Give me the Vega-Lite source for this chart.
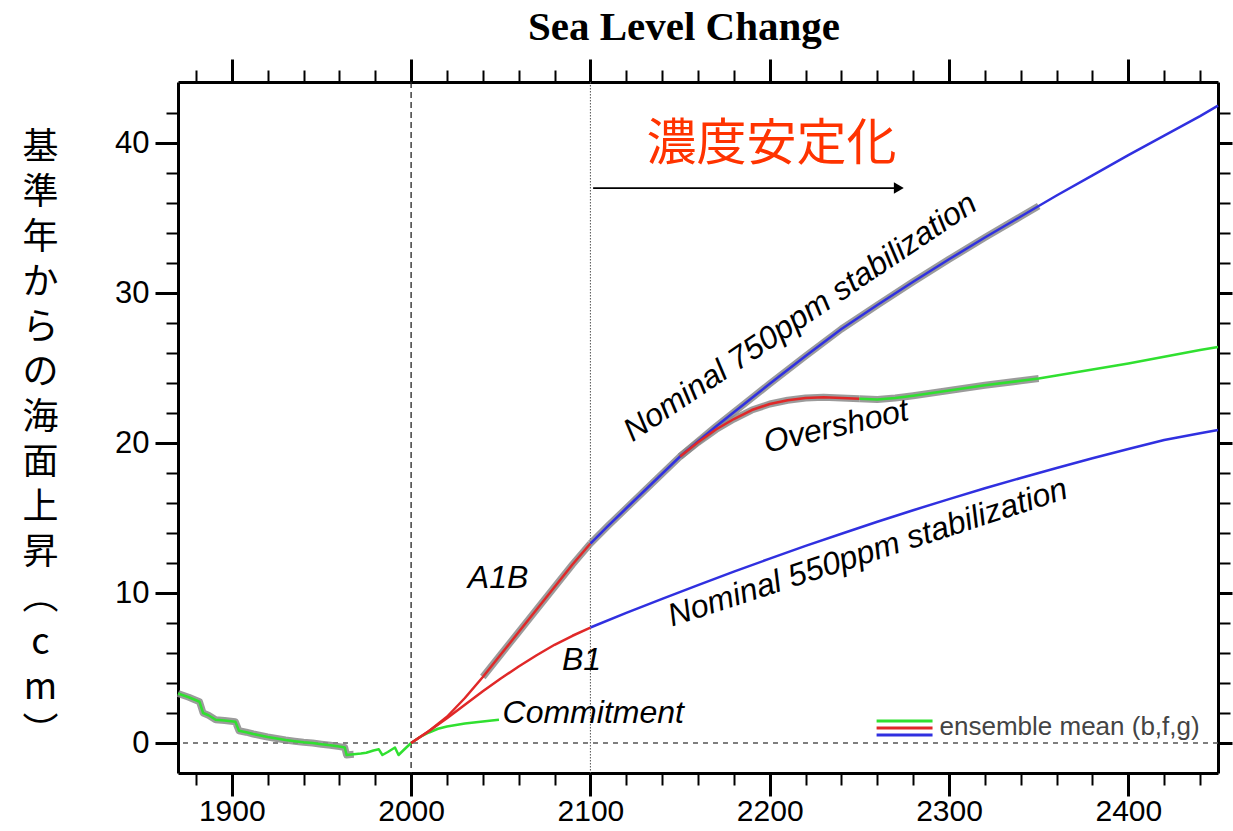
{
  "$schema": "https://vega.github.io/schema/vega-lite/v6.json",
  "width": 1040,
  "height": 691,
  "autosize": {"type": "none"},
  "padding": {"left": 178, "top": 82, "right": 15, "bottom": 58},
  "background": "white",
  "config": {"view": {"stroke": null}, "font": "Liberation Sans"},
  "title": {"text": "Sea Level Change", "font": "Liberation Serif", "fontSize": 41, "fontWeight": "bold", "color": "black", "anchor": "middle", "offset": 9, "dx": -14},
  "datasets": {
    "curves": [
      {"s": "hist", "c": "g", "e": 1, "t": 1870, "v": 3.3},
      {"s": "hist", "c": "g", "e": 1, "t": 1876, "v": 3.05},
      {"s": "hist", "c": "g", "e": 1, "t": 1882, "v": 2.75},
      {"s": "hist", "c": "g", "e": 1, "t": 1884, "v": 2.0},
      {"s": "hist", "c": "g", "e": 1, "t": 1887, "v": 1.85},
      {"s": "hist", "c": "g", "e": 1, "t": 1891, "v": 1.55},
      {"s": "hist", "c": "g", "e": 1, "t": 1896, "v": 1.5},
      {"s": "hist", "c": "g", "e": 1, "t": 1902, "v": 1.42},
      {"s": "hist", "c": "g", "e": 1, "t": 1904, "v": 0.82},
      {"s": "hist", "c": "g", "e": 1, "t": 1908, "v": 0.72},
      {"s": "hist", "c": "g", "e": 1, "t": 1912, "v": 0.6},
      {"s": "hist", "c": "g", "e": 1, "t": 1916, "v": 0.5},
      {"s": "hist", "c": "g", "e": 1, "t": 1920, "v": 0.4},
      {"s": "hist", "c": "g", "e": 1, "t": 1925, "v": 0.3},
      {"s": "hist", "c": "g", "e": 1, "t": 1930, "v": 0.2},
      {"s": "hist", "c": "g", "e": 1, "t": 1935, "v": 0.12},
      {"s": "hist", "c": "g", "e": 1, "t": 1940, "v": 0.05},
      {"s": "hist", "c": "g", "e": 1, "t": 1945, "v": 0.0},
      {"s": "hist", "c": "g", "e": 1, "t": 1950, "v": -0.08},
      {"s": "hist", "c": "g", "e": 1, "t": 1955, "v": -0.15},
      {"s": "hist", "c": "g", "e": 1, "t": 1960, "v": -0.24},
      {"s": "hist", "c": "g", "e": 1, "t": 1963, "v": -0.3},
      {"s": "hist", "c": "g", "e": 1, "t": 1964, "v": -0.8},
      {"s": "hist", "c": "g", "e": 1, "t": 1968, "v": -0.75},
      {"s": "hist", "c": "g", "e": 0, "t": 1972, "v": -0.7},
      {"s": "hist", "c": "g", "e": 0, "t": 1975, "v": -0.65},
      {"s": "hist", "c": "g", "e": 0, "t": 1979, "v": -0.5},
      {"s": "hist", "c": "g", "e": 0, "t": 1982, "v": -0.42},
      {"s": "hist", "c": "g", "e": 0, "t": 1984, "v": -0.8},
      {"s": "hist", "c": "g", "e": 0, "t": 1987, "v": -0.6},
      {"s": "hist", "c": "g", "e": 0, "t": 1991, "v": -0.3},
      {"s": "hist", "c": "g", "e": 0, "t": 1993, "v": -0.8},
      {"s": "hist", "c": "g", "e": 0, "t": 1996, "v": -0.45},
      {"s": "hist", "c": "g", "e": 0, "t": 2000, "v": 0.0},
      {"s": "commit", "c": "g", "e": 0, "t": 2000, "v": 0.0},
      {"s": "commit", "c": "g", "e": 0, "t": 2005, "v": 0.4},
      {"s": "commit", "c": "g", "e": 0, "t": 2010, "v": 0.7},
      {"s": "commit", "c": "g", "e": 0, "t": 2015, "v": 0.95},
      {"s": "commit", "c": "g", "e": 0, "t": 2020, "v": 1.1},
      {"s": "commit", "c": "g", "e": 0, "t": 2025, "v": 1.2},
      {"s": "commit", "c": "g", "e": 0, "t": 2030, "v": 1.3},
      {"s": "commit", "c": "g", "e": 0, "t": 2035, "v": 1.37},
      {"s": "commit", "c": "g", "e": 0, "t": 2040, "v": 1.43},
      {"s": "commit", "c": "g", "e": 0, "t": 2045, "v": 1.5},
      {"s": "commit", "c": "g", "e": 0, "t": 2049, "v": 1.55},
      {"s": "A1B", "c": "r", "e": 0, "t": 2000, "v": 0.0},
      {"s": "A1B", "c": "r", "e": 0, "t": 2010, "v": 0.8},
      {"s": "A1B", "c": "r", "e": 0, "t": 2020, "v": 1.75},
      {"s": "A1B", "c": "r", "e": 0, "t": 2030, "v": 3.0},
      {"s": "A1B", "c": "r", "e": 1, "t": 2040, "v": 4.4},
      {"s": "A1B", "c": "r", "e": 1, "t": 2050, "v": 5.9},
      {"s": "A1B", "c": "r", "e": 1, "t": 2060, "v": 7.4},
      {"s": "A1B", "c": "r", "e": 1, "t": 2070, "v": 8.9},
      {"s": "A1B", "c": "r", "e": 1, "t": 2080, "v": 10.4},
      {"s": "A1B", "c": "r", "e": 1, "t": 2090, "v": 11.9},
      {"s": "A1B", "c": "r", "e": 1, "t": 2100, "v": 13.3},
      {"s": "B1", "c": "r", "e": 0, "t": 2000, "v": 0.0},
      {"s": "B1", "c": "r", "e": 0, "t": 2010, "v": 0.8},
      {"s": "B1", "c": "r", "e": 0, "t": 2020, "v": 1.65},
      {"s": "B1", "c": "r", "e": 0, "t": 2030, "v": 2.55},
      {"s": "B1", "c": "r", "e": 0, "t": 2040, "v": 3.45},
      {"s": "B1", "c": "r", "e": 0, "t": 2050, "v": 4.3},
      {"s": "B1", "c": "r", "e": 0, "t": 2060, "v": 5.1},
      {"s": "B1", "c": "r", "e": 0, "t": 2070, "v": 5.85},
      {"s": "B1", "c": "r", "e": 0, "t": 2080, "v": 6.55},
      {"s": "B1", "c": "r", "e": 0, "t": 2090, "v": 7.15},
      {"s": "B1", "c": "r", "e": 0, "t": 2100, "v": 7.7},
      {"s": "s750", "c": "b", "e": 1, "t": 2100, "v": 13.3},
      {"s": "s750", "c": "b", "e": 1, "t": 2110, "v": 14.5},
      {"s": "s750", "c": "b", "e": 1, "t": 2120, "v": 15.65},
      {"s": "s750", "c": "b", "e": 1, "t": 2130, "v": 16.8},
      {"s": "s750", "c": "b", "e": 1, "t": 2140, "v": 17.95},
      {"s": "s750", "c": "b", "e": 1, "t": 2150, "v": 19.1},
      {"s": "s750", "c": "b", "e": 1, "t": 2160, "v": 20.1},
      {"s": "s750", "c": "b", "e": 1, "t": 2170, "v": 21.1},
      {"s": "s750", "c": "b", "e": 1, "t": 2180, "v": 22.05},
      {"s": "s750", "c": "b", "e": 1, "t": 2190, "v": 23.0},
      {"s": "s750", "c": "b", "e": 1, "t": 2200, "v": 23.95},
      {"s": "s750", "c": "b", "e": 1, "t": 2220, "v": 25.8},
      {"s": "s750", "c": "b", "e": 1, "t": 2240, "v": 27.6},
      {"s": "s750", "c": "b", "e": 1, "t": 2260, "v": 29.2},
      {"s": "s750", "c": "b", "e": 1, "t": 2280, "v": 30.75},
      {"s": "s750", "c": "b", "e": 1, "t": 2300, "v": 32.25},
      {"s": "s750", "c": "b", "e": 1, "t": 2320, "v": 33.7},
      {"s": "s750", "c": "b", "e": 1, "t": 2340, "v": 35.1},
      {"s": "s750", "c": "b", "e": 1, "t": 2350, "v": 35.8},
      {"s": "s750", "c": "b", "e": 0, "t": 2360, "v": 36.5},
      {"s": "s750", "c": "b", "e": 0, "t": 2380, "v": 37.85},
      {"s": "s750", "c": "b", "e": 0, "t": 2400, "v": 39.2},
      {"s": "s750", "c": "b", "e": 0, "t": 2420, "v": 40.5},
      {"s": "s750", "c": "b", "e": 0, "t": 2440, "v": 41.8},
      {"s": "s750", "c": "b", "e": 0, "t": 2450, "v": 42.5},
      {"s": "s550", "c": "b", "e": 0, "t": 2100, "v": 7.7},
      {"s": "s550", "c": "b", "e": 0, "t": 2120, "v": 8.67},
      {"s": "s550", "c": "b", "e": 0, "t": 2140, "v": 9.61},
      {"s": "s550", "c": "b", "e": 0, "t": 2160, "v": 10.53},
      {"s": "s550", "c": "b", "e": 0, "t": 2180, "v": 11.43},
      {"s": "s550", "c": "b", "e": 0, "t": 2200, "v": 12.29},
      {"s": "s550", "c": "b", "e": 0, "t": 2220, "v": 13.14},
      {"s": "s550", "c": "b", "e": 0, "t": 2240, "v": 13.95},
      {"s": "s550", "c": "b", "e": 0, "t": 2260, "v": 14.75},
      {"s": "s550", "c": "b", "e": 0, "t": 2280, "v": 15.52},
      {"s": "s550", "c": "b", "e": 0, "t": 2300, "v": 16.26},
      {"s": "s550", "c": "b", "e": 0, "t": 2320, "v": 16.98},
      {"s": "s550", "c": "b", "e": 0, "t": 2340, "v": 17.67},
      {"s": "s550", "c": "b", "e": 0, "t": 2360, "v": 18.34},
      {"s": "s550", "c": "b", "e": 0, "t": 2380, "v": 18.99},
      {"s": "s550", "c": "b", "e": 0, "t": 2400, "v": 19.6},
      {"s": "s550", "c": "b", "e": 0, "t": 2420, "v": 20.2},
      {"s": "s550", "c": "b", "e": 0, "t": 2440, "v": 20.65},
      {"s": "s550", "c": "b", "e": 0, "t": 2450, "v": 20.87},
      {"s": "over1", "c": "r", "e": 1, "t": 2150, "v": 19.1},
      {"s": "over1", "c": "r", "e": 1, "t": 2160, "v": 20.05},
      {"s": "over1", "c": "r", "e": 1, "t": 2170, "v": 20.9},
      {"s": "over1", "c": "r", "e": 1, "t": 2180, "v": 21.6},
      {"s": "over1", "c": "r", "e": 1, "t": 2190, "v": 22.2},
      {"s": "over1", "c": "r", "e": 1, "t": 2200, "v": 22.6},
      {"s": "over1", "c": "r", "e": 1, "t": 2210, "v": 22.85},
      {"s": "over1", "c": "r", "e": 1, "t": 2220, "v": 23.0},
      {"s": "over1", "c": "r", "e": 1, "t": 2230, "v": 23.05},
      {"s": "over1", "c": "r", "e": 1, "t": 2240, "v": 23.0},
      {"s": "over1", "c": "r", "e": 1, "t": 2250, "v": 22.95},
      {"s": "over2", "c": "g", "e": 1, "t": 2250, "v": 22.95},
      {"s": "over2", "c": "g", "e": 1, "t": 2260, "v": 22.9},
      {"s": "over2", "c": "g", "e": 1, "t": 2270, "v": 23.0},
      {"s": "over2", "c": "g", "e": 1, "t": 2280, "v": 23.15},
      {"s": "over2", "c": "g", "e": 1, "t": 2300, "v": 23.5},
      {"s": "over2", "c": "g", "e": 1, "t": 2320, "v": 23.85},
      {"s": "over2", "c": "g", "e": 1, "t": 2340, "v": 24.15},
      {"s": "over2", "c": "g", "e": 1, "t": 2350, "v": 24.3},
      {"s": "over2", "c": "g", "e": 0, "t": 2360, "v": 24.5},
      {"s": "over2", "c": "g", "e": 0, "t": 2380, "v": 24.9},
      {"s": "over2", "c": "g", "e": 0, "t": 2400, "v": 25.3},
      {"s": "over2", "c": "g", "e": 0, "t": 2420, "v": 25.75},
      {"s": "over2", "c": "g", "e": 0, "t": 2440, "v": 26.2},
      {"s": "over2", "c": "g", "e": 0, "t": 2450, "v": 26.4}
    ]
  },
  "layer": [
    {
      "data": {"values": [{"v": 0}]},
      "mark": {"type": "rule", "color": "#555555", "strokeDash": [5, 5], "strokeWidth": 1.6},
      "encoding": {
        "y": {"field": "v", "type": "quantitative", "scale": {"domain": [-2, 44.07], "nice": false, "zero": false}, "axis": null}
      }
    },
    {
      "data": {"values": [{"t": 2000}]},
      "mark": {"type": "rule", "color": "#222222", "strokeDash": [6, 4], "strokeWidth": 1.3},
      "encoding": {
        "x": {"field": "t", "type": "quantitative", "scale": {"domain": [1870, 2450], "nice": false, "zero": false}, "axis": null}
      }
    },
    {
      "data": {"values": [{"t": 2100}]},
      "mark": {"type": "rule", "color": "#555555", "strokeDash": [1.5, 1.5], "strokeWidth": 1},
      "encoding": {
        "x": {"field": "t", "type": "quantitative", "scale": {"domain": [1870, 2450], "nice": false, "zero": false}, "axis": null}
      }
    },
    {
      "data": {"name": "curves"},
      "transform": [{"filter": "datum.e == 1"}],
      "mark": {"type": "line", "color": "#8a8a8a", "strokeWidth": 7, "opacity": 0.85, "strokeCap": "butt", "strokeJoin": "round"},
      "encoding": {
        "x": {"field": "t", "type": "quantitative", "scale": {"domain": [1870, 2450], "nice": false, "zero": false},
          "axis": {"orient": "top", "values": [1880, 1900, 1920, 1940, 1960, 1980, 2000, 2020, 2040, 2060, 2080, 2100, 2120, 2140, 2160, 2180, 2200, 2220, 2240, 2260, 2280, 2300, 2320, 2340, 2360, 2380, 2400, 2420, 2440],
            "labels": false, "title": null, "grid": false, "tickColor": "black", "domainColor": "black", "domainWidth": 3,
            "tickSize": {"condition": {"test": "datum.value % 100 === 0", "value": 23}, "value": 12},
            "tickWidth": {"condition": {"test": "datum.value % 100 === 0", "value": 3}, "value": 2}}},
        "y": {"field": "v", "type": "quantitative", "scale": {"domain": [-2, 44.07], "nice": false, "zero": false},
          "axis": {"orient": "right", "values": [0, 2, 4, 6, 8, 10, 12, 14, 16, 18, 20, 22, 24, 26, 28, 30, 32, 34, 36, 38, 40, 42],
            "labels": false, "title": null, "grid": false, "tickColor": "black", "domainColor": "black", "domainWidth": 3,
            "tickSize": {"condition": {"test": "datum.value % 10 === 0", "value": 14}, "value": 12},
            "tickWidth": {"condition": {"test": "datum.value % 10 === 0", "value": 3}, "value": 2}}},
        "detail": {"field": "s", "type": "nominal"}
      }
    },
    {
      "data": {"name": "curves"},
      "mark": {"type": "line", "strokeWidth": 2.5, "strokeJoin": "round"},
      "encoding": {
        "x": {"field": "t", "type": "quantitative", "scale": {"domain": [1870, 2450], "nice": false, "zero": false},
          "axis": {"orient": "bottom", "values": [1880, 1900, 1920, 1940, 1960, 1980, 2000, 2020, 2040, 2060, 2080, 2100, 2120, 2140, 2160, 2180, 2200, 2220, 2240, 2260, 2280, 2300, 2320, 2340, 2360, 2380, 2400, 2420, 2440],
            "format": "d", "labelExpr": "datum.value % 100 === 0 ? datum.label : ''",
            "labelFont": "Liberation Sans", "labelFontSize": 30, "labelColor": "black", "labelPadding": 0, "labelFlush": false, "labelOverlap": false,
            "title": null, "grid": false, "tickColor": "black", "domainColor": "black", "domainWidth": 3,
            "tickSize": {"condition": {"test": "datum.value % 100 === 0", "value": 23}, "value": 12},
            "tickWidth": {"condition": {"test": "datum.value % 100 === 0", "value": 3}, "value": 2}}},
        "y": {"field": "v", "type": "quantitative", "scale": {"domain": [-2, 44.07], "nice": false, "zero": false},
          "axis": {"orient": "left", "values": [0, 2, 4, 6, 8, 10, 12, 14, 16, 18, 20, 22, 24, 26, 28, 30, 32, 34, 36, 38, 40, 42],
            "format": "d", "labelExpr": "datum.value % 10 === 0 ? datum.label : ''",
            "labelFont": "Liberation Sans", "labelFontSize": 31, "labelColor": "black", "labelPadding": 6, "labelFlush": false, "labelOverlap": false,
            "grid": false, "tickColor": "black", "domainColor": "black", "domainWidth": 3,
            "tickSize": {"condition": {"test": "datum.value % 10 === 0", "value": 23}, "value": 12},
            "tickWidth": {"condition": {"test": "datum.value % 10 === 0", "value": 3}, "value": 2},
            "title": ["基", "準", "年", "か", "ら", "の", "海", "面", "上", "昇", "︵", "c", "m", "︶"],
            "titleFont": "Noto Sans CJK JP", "titleFontSize": 36, "titleFontWeight": "normal", "titleColor": "black",
            "titleLineHeight": 45, "titleAngle": 0, "titleAlign": "center", "titleBaseline": "top", "titleX": -138, "titleY": 48}},
        "color": {"field": "c", "type": "nominal", "scale": {"domain": ["g", "r", "b"], "range": ["#30e030", "#e02828", "#3030e0"]}, "legend": null},
        "detail": {"field": "s", "type": "nominal"}
      }
    },
    {
      "data": {"values": [{"c": "g", "x1": 2259.6, "x2": 2290.8, "y": 1.47}, {"c": "r", "x1": 2259.6, "x2": 2290.8, "y": 1.0}, {"c": "b", "x1": 2259.6, "x2": 2290.8, "y": 0.53}]},
      "mark": {"type": "rule", "strokeWidth": 3},
      "encoding": {
        "x": {"field": "x1", "type": "quantitative", "scale": {"domain": [1870, 2450], "nice": false, "zero": false}, "axis": null},
        "x2": {"field": "x2"},
        "y": {"field": "y", "type": "quantitative", "scale": {"domain": [-2, 44.07], "nice": false, "zero": false}, "axis": null},
        "color": {"field": "c", "type": "nominal", "scale": {"domain": ["g", "r", "b"], "range": ["#55ee55", "#ff6b6b", "#5555ff"]}, "legend": null}
      }
    },
    {
      "data": {"values": [{}]},
      "mark": {"type": "text", "text": "ensemble mean (b,f,g)", "font": "Liberation Sans", "fontSize": 26, "color": "#444444", "align": "left", "baseline": "middle"},
      "encoding": {
        "x": {"datum": 2294.7, "type": "quantitative", "axis": null},
        "y": {"datum": 1.05, "type": "quantitative", "axis": null}
      }
    },
    {
      "data": {"values": [{}]},
      "mark": {"type": "text", "text": "A1B", "font": "Liberation Sans", "fontStyle": "italic", "fontSize": 32, "color": "black", "align": "center", "baseline": "middle"},
      "encoding": {"x": {"datum": 2048.5, "type": "quantitative", "axis": null}, "y": {"datum": 11.0, "type": "quantitative", "axis": null}}
    },
    {
      "data": {"values": [{}]},
      "mark": {"type": "text", "text": "B1", "font": "Liberation Sans", "fontStyle": "italic", "fontSize": 32, "color": "black", "align": "center", "baseline": "middle"},
      "encoding": {"x": {"datum": 2095, "type": "quantitative", "axis": null}, "y": {"datum": 5.53, "type": "quantitative", "axis": null}}
    },
    {
      "data": {"values": [{}]},
      "mark": {"type": "text", "text": "Commitment", "font": "Liberation Sans", "fontStyle": "italic", "fontSize": 32, "color": "black", "align": "left", "baseline": "middle"},
      "encoding": {"x": {"datum": 2051, "type": "quantitative", "axis": null}, "y": {"datum": 2.0, "type": "quantitative", "axis": null}}
    },
    {
      "data": {"values": [{}]},
      "mark": {"type": "text", "text": "Nominal 750ppm stabilization", "font": "Liberation Sans", "fontStyle": "italic", "fontSize": 32, "color": "black", "align": "center", "baseline": "middle", "angle": -34},
      "encoding": {"x": {"datum": 2217, "type": "quantitative", "axis": null}, "y": {"datum": 28.4, "type": "quantitative", "axis": null}}
    },
    {
      "data": {"values": [{}]},
      "mark": {"type": "text", "text": "Nominal 550ppm stabilization", "font": "Liberation Sans", "fontStyle": "italic", "fontSize": 32, "color": "black", "align": "center", "baseline": "middle", "angle": -18},
      "encoding": {"x": {"datum": 2254.6, "type": "quantitative", "axis": null}, "y": {"datum": 12.7, "type": "quantitative", "axis": null}}
    },
    {
      "data": {"values": [{}]},
      "mark": {"type": "text", "text": "Overshoot", "font": "Liberation Sans", "fontStyle": "italic", "fontSize": 32, "color": "black", "align": "center", "baseline": "middle", "angle": -13},
      "encoding": {"x": {"datum": 2237, "type": "quantitative", "axis": null}, "y": {"datum": 21.1, "type": "quantitative", "axis": null}}
    },
    {
      "data": {"values": [{}]},
      "mark": {"type": "text", "text": "濃度安定化", "font": "Noto Sans CJK JP", "fontSize": 50, "color": "#ff3300", "align": "center", "baseline": "middle"},
      "encoding": {"x": {"datum": 2201, "type": "quantitative", "axis": null}, "y": {"datum": 39.9, "type": "quantitative", "axis": null}}
    },
    {
      "data": {"values": [{}]},
      "mark": {"type": "rule", "color": "black", "strokeWidth": 1.8},
      "encoding": {"x": {"datum": 2101.5, "type": "quantitative", "axis": null}, "x2": {"datum": 2270}, "y": {"datum": 37.0, "type": "quantitative", "axis": null}}
    },
    {
      "data": {"values": [{}]},
      "mark": {"type": "point", "shape": "triangle-right", "filled": true, "color": "black", "opacity": 1, "size": 130},
      "encoding": {"x": {"datum": 2272, "type": "quantitative", "axis": null}, "y": {"datum": 37.0, "type": "quantitative", "axis": null}}
    }
  ],
  "resolve": {"axis": {"x": "independent", "y": "independent"}}
}
